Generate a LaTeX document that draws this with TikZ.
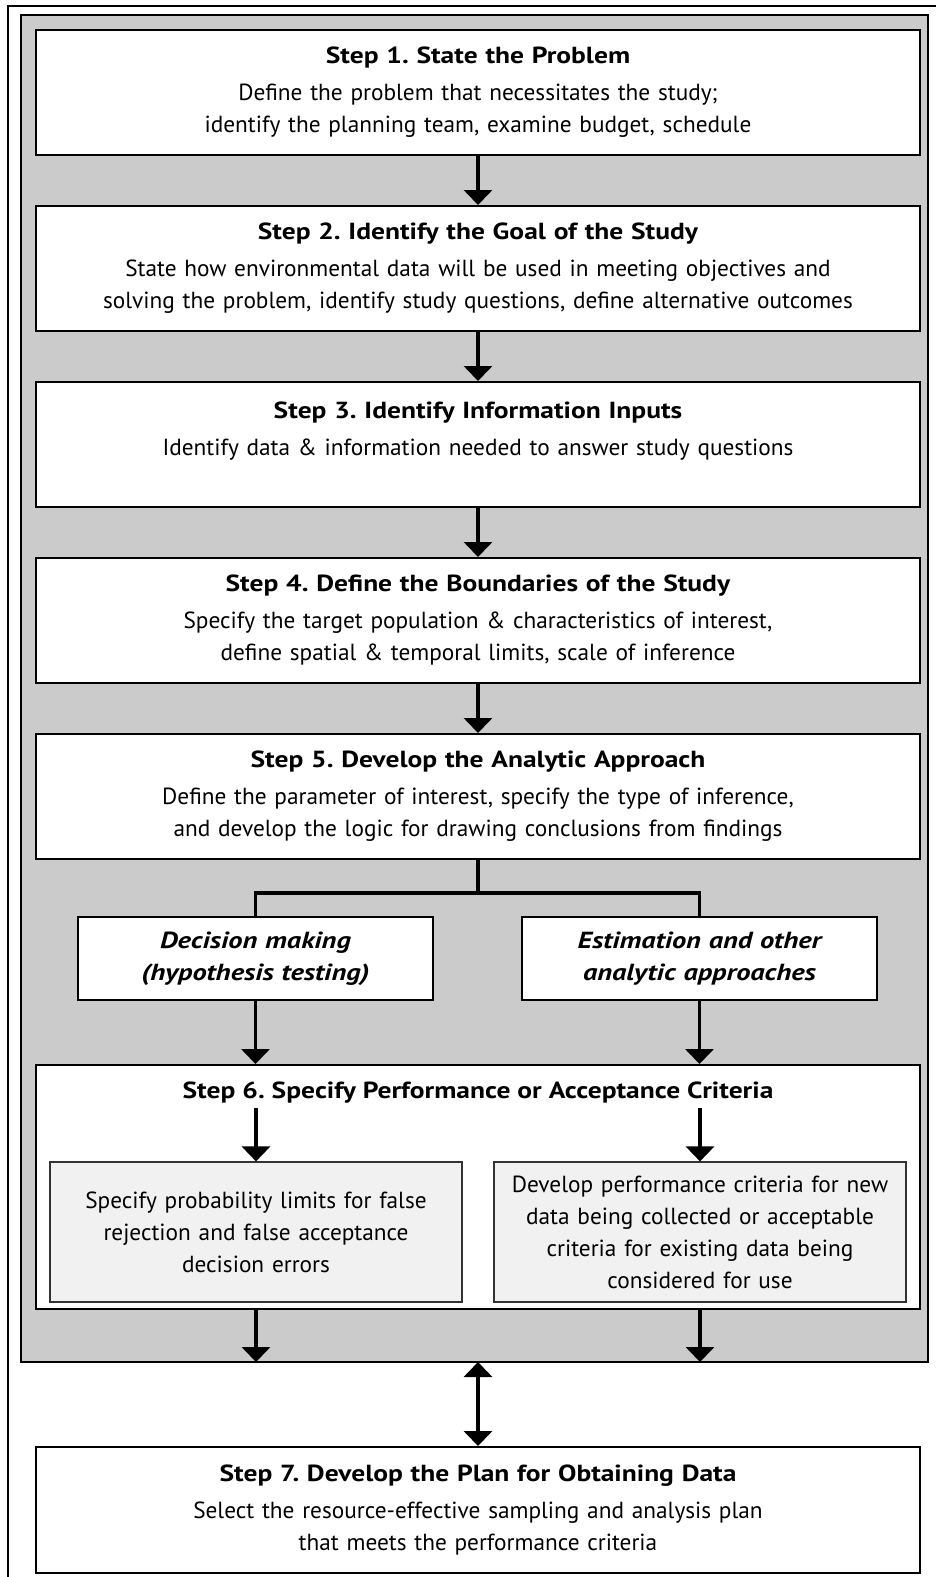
\documentclass[tikz,border=0pt]{standalone}
\usepackage{fontspec}
\setmainfont{PT Sans}[BoldFeatures={FakeStretch=1.18}, BoldItalicFeatures={FakeStretch=1.22}]
\usetikzlibrary{arrows.meta}
\definecolor{panelgray}{HTML}{CBCBCB}
\definecolor{innergray}{HTML}{F1F1F1}
\newcommand{\stepfont}{\fontsize{23.3}{32}\selectfont\frenchspacing}

\tikzset{
  stepbox/.style={draw, line width=2pt, fill=white, minimum width=884pt, inner sep=0pt,
    text width=870pt, align=center, font=\stepfont},
  pathbox/.style={draw, line width=2pt, fill=white, minimum width=355pt, minimum height=83pt,
    inner sep=0pt, text width=340pt, align=center, font=\stepfont\bfseries\itshape},
  critbox/.style={draw=black!80, line width=1.2pt, fill=innergray, minimum width=412pt,
    minimum height=140pt, inner sep=0pt, text width=400pt, align=center, font=\stepfont},
  flow/.style={line width=3.5pt, -{Triangle[width=28pt,length=15pt]}},
  twoway/.style={line width=3.5pt, {Triangle[width=28pt,length=15pt]}-{Triangle[width=28pt,length=15pt]}},
  branch/.style={line width=3.5pt}
}

\begin{document}
\begin{tikzpicture}[x=1pt, y=-1pt]
    \useasboundingbox (0,0) rectangle (935,1577);
    % frame and gray panel
    \draw[line width=2pt] (8,1590) -- (8,6) -- (950,6);
    \draw[line width=2pt, fill=panelgray] (21,15) rectangle (928,1362);
    \coordinate (pb) at (478,1362);

    \node[stepbox, minimum height=125pt] (s1) at (478,92.5)
        {\textbf{Step 1. State the Problem}\\[5pt]
         Define the problem that necessitates the study;\\
         identify the planning team, examine budget, schedule};
    \node[stepbox, minimum height=125pt] (s2) at (478,268.5)
        {\textbf{Step 2. Identify the Goal of the Study}\\[5pt]
         State how environmental data will be used in meeting objectives and\\
         solving the problem, identify study questions, define alternative outcomes};
    \node[stepbox, minimum height=125pt] (s3) at (478,444.5)
        {\textbf{Step 3. Identify Information Inputs}\\[5pt]
         Identify data \& information needed to answer study questions\\ \mbox{}};
    \node[stepbox, minimum height=125pt] (s4) at (478,620.5)
        {\textbf{Step 4. Define the Boundaries of the Study}\\[5pt]
         Specify the target population \& characteristics of interest,\\
         define spatial \& temporal limits, scale of inference};
    \node[stepbox, minimum height=125pt] (s5) at (478,796.5)
        {\textbf{Step 5. Develop the Analytic Approach}\\[5pt]
         Define the parameter of interest, specify the type of inference,\\
         and develop the logic for drawing conclusions from findings};

    \node[pathbox] (dm) at (255.5,958.5) {Decision making\\(hypothesis testing)};
    \node[pathbox] (est) at (699.5,958.5) {Estimation and other\\analytic approaches};

    \node[stepbox, minimum height=244pt] (s6) at (478,1187) {};
    \node[font=\stepfont\bfseries, inner sep=0pt] (s6t) at (478,1093)
        {Step 6. Specify Performance or Acceptance Criteria};
    \node[critbox] (pl) at (256,1232)
        {Specify probability limits for false\\ rejection and false acceptance\\ decision errors};
    \node[critbox] (pr) at (700,1232)
        {Develop performance criteria for new\\ data being collected or acceptable\\
         criteria for existing data being\\ considered for use};

    \node[stepbox, minimum height=126pt] (s7) at (478,1510)
        {\textbf{Step 7. Develop the Plan for Obtaining Data}\\[5pt]
         Select the resource-effective sampling and analysis plan\\
         that meets the performance criteria};

    % connectors
    \draw[flow] (s1) -- (s2);
    \draw[flow] (s2) -- (s3);
    \draw[flow] (s3) -- (s4);
    \draw[flow] (s4) -- (s5);
    \draw[branch] (s5.south) -- ++(0,33) -| (dm.north);
    \draw[branch] (s5.south) -- ++(0,33) -| (est.north);
    \draw[flow] (dm.south) -- (dm.south |- s6.north);
    \draw[flow] (est.south) -- (est.south |- s6.north);
    \draw[flow] (pl.north |- 0,1108) -- (pl.north);
    \draw[flow] (pr.north |- 0,1108) -- (pr.north);
    \draw[flow] (s6.south -| pl) -- (pb -| pl);
    \draw[flow] (s6.south -| pr) -- (pb -| pr);
    \draw[twoway] (pb) -- (s7.north);
\end{tikzpicture}
\end{document}
